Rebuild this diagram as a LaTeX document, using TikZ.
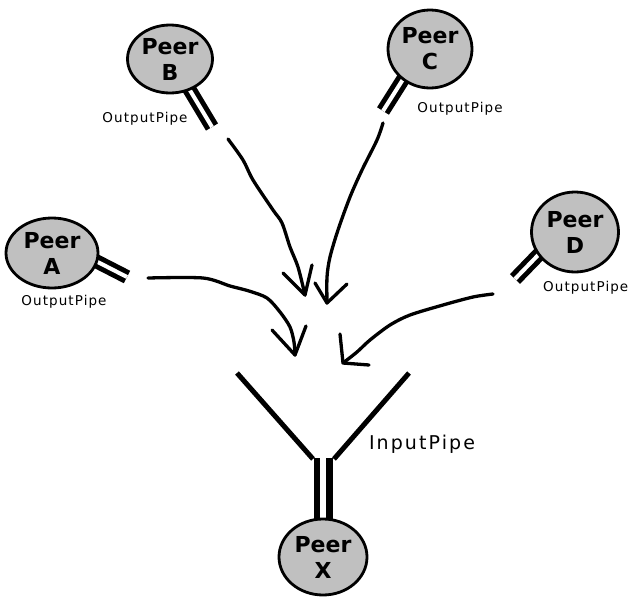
\documentclass[tikz,border=0pt]{standalone}
\usepackage{fontspec}
\setmainfont{DejaVu Sans}
\newfontfamily\outpipefont[LetterSpace=8]{DejaVu Sans}
\newfontfamily\inpipefont[LetterSpace=11]{DejaVu Sans}
\usetikzlibrary{shapes.geometric}
\definecolor{peergray}{RGB}{192,192,192}
\begin{document}
\begin{tikzpicture}[x=1pt,y=-1pt,
  peer/.style={ellipse,draw=black,line width=2.8pt,fill=peergray,inner sep=0pt,
    align=center,font=\fontsize{22}{26}\selectfont\bfseries},
  pipe/.style={line width=5pt,double=white,double distance=4pt},
  bigpipe/.style={line width=6.5pt,double=white,double distance=6pt},
  funnel/.style={line width=5pt},
  outlabel/.style={font=\outpipefont\fontsize{13.5}{15}\selectfont,inner sep=0pt},
  inlabel/.style={font=\inpipefont\fontsize{19}{22}\selectfont,inner sep=0pt},
  sketch/.style={line width=3.3pt,line join=round,line cap=round},
]
\fill[white] (0,0) rectangle (631,597);
\useasboundingbox (0,0) rectangle (631,597);

% output pipes (drawn first, the peers cover their inner ends)
\draw[pipe] (185,82) -- (212,127);
\draw[pipe] (407,73) -- (383,111);
\draw[pipe] (88,257) -- (127,277);
\draw[pipe] (545,248) -- (515,279);

% input pipe and funnel of peer X
\draw[bigpipe] (323,530) -- (323,458);
\draw[funnel] (237,373) -- (313,459);
\draw[funnel] (409,373) -- (334,459);

% peers
\node[peer,minimum width=85pt,minimum height=68pt] (pB) at (170,59) {Peer\\B};
\node[peer,minimum width=84pt,minimum height=78pt] (pC) at (430,49) {Peer\\C};
\node[peer,minimum width=92pt,minimum height=70pt] (pA) at (52,253) {Peer\\A};
\node[peer,minimum width=87pt,minimum height=80pt] (pD) at (575,232) {Peer\\D};
\node[peer,minimum width=88pt,minimum height=76pt] (pX) at (323,557) {Peer\\X};

% pipe labels
\node[outlabel] (lB) at (145,119) {OutputPipe};
\node[outlabel] (lC) at (460,109) {OutputPipe};
\node[outlabel] (lA) at (64,302) {OutputPipe};
\node[outlabel,anchor=west] (lD) at (543,288) {OutputPipe};
\node[inlabel] (lX) at (422,444) {InputPipe};

% hand-drawn arrows towards the funnel
\coordinate (sB) at (228,139);
\coordinate (tB) at (305,295);
\draw[sketch] plot[smooth,tension=0.5] coordinates
  {(sB) (243,160) (253,180) (273,210) (282,223) (290,247) (298,267) (tB)};
\draw[sketch] (283,273) -- (tB) -- (312,265);

\coordinate (sC) at (383,123);
\coordinate (tC) at (327,303);
\draw[sketch] plot[smooth,tension=0.5] coordinates
  {(sC) (377,140) (362,170) (350,197) (338,230) (330,257) (327,277) (tC)};
\draw[sketch] (315,283) -- (tC) -- (347,284);

\coordinate (sA) at (148,278);
\coordinate (tA) at (295,355);
\draw[sketch] plot[smooth,tension=0.5] coordinates
  {(sA) (203,278) (230,286) (249,291) (267,298) (280,312) (290,327) (294,342) (tA)};
\draw[sketch] (272,330) -- (tA) -- (306,326);

\coordinate (sD) at (493,294);
\coordinate (tD) at (343,363);
\draw[sketch] plot[smooth,tension=0.5] coordinates
  {(sD) (473,297) (443,305) (410,315) (390,325) (370,340) (357,352) (tD)};
\draw[sketch] (340,334) -- (tD) -- (369,365);
\end{tikzpicture}
\end{document}
